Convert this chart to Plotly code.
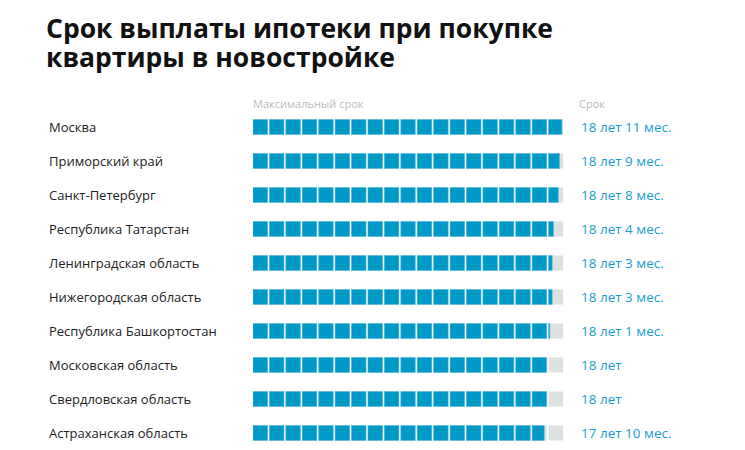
import plotly.graph_objects as go

regions = ["Москва", "Приморский край", "Санкт-Петербург", "Республика Татарстан",
           "Ленинградская область", "Нижегородская область", "Республика Башкортостан",
           "Московская область", "Свердловская область", "Астраханская область"]
years = [18, 18, 18, 18, 18, 18, 18, 18, 18, 17]
months = [11, 9, 8, 4, 3, 3, 1, 0, 0, 10]
labels = ["18 лет 11 мес.", "18 лет 9 мес.", "18 лет 8 мес.", "18 лет 4 мес.",
          "18 лет 3 мес.", "18 лет 3 мес.", "18 лет 1 мес.", "18 лет", "18 лет",
          "17 лет 10 мес."]
max_years = 19
title_lines = ["Срок выплаты ипотеки при покупке", "квартиры в новостройке"]

BLUE = "#0099c7"
GRAY = "#dde1e1"
TEXT_BLUE = "#1b9bd0"
SQ = 0.884   # square width as share of one-year cell
BH = 0.44    # square height as share of row

gx, gb, gy = [], [], []
bx, bb, by = [], [], []
for r, yv, mv in zip(regions, years, months):
    total = yv + mv / 12
    for i in range(max_years):
        gx.append(SQ); gb.append(i); gy.append(r)
        frac = max(0.0, min(1.0, total - i))
        if frac > 0:
            bx.append(SQ * frac); bb.append(i); by.append(r)

fig = go.Figure()
fig.add_trace(go.Bar(x=gx, base=gb, y=gy, orientation="h", width=BH,
                     marker=dict(color=GRAY, line=dict(width=0)), hoverinfo="skip"))
fig.add_trace(go.Bar(x=bx, base=bb, y=by, orientation="h", width=BH,
                     marker=dict(color=BLUE, line=dict(color="#4db8dc", width=0.6)),
                     hoverinfo="skip"))

L, R = 253, 564.6
PW = R - L
T, B = 110, 450
PH = B - T
def px(xp):
    return (xp - L) / PW
def py(yp):
    return (B - yp) / PH

ann = []
for r, lab in zip(regions, labels):
    ann.append(dict(x=px(47), xref="paper", y=r, yref="y", text=r, showarrow=False,
                    xanchor="left", yanchor="middle",
                    font=dict(family="Open Sans", size=13, color="#222222")))
    ann.append(dict(x=px(579), xref="paper", y=r, yref="y", text=lab, showarrow=False,
                    xanchor="left", yanchor="middle",
                    font=dict(family="Open Sans", size=13.5, color=TEXT_BLUE)))
ann.append(dict(x=px(251), xref="paper", y=py(103), yref="paper",
                text="Максимальный срок", showarrow=False, xanchor="left", yanchor="middle",
                font=dict(family="Open Sans", size=11, color="#b8bbbb")))
ann.append(dict(x=px(577), xref="paper", y=py(103), yref="paper",
                text="Срок", showarrow=False, xanchor="left", yanchor="middle",
                font=dict(family="Open Sans", size=11, color="#b8bbbb")))
for line, ypix in zip(title_lines, [28, 57]):
    ann.append(dict(x=px(44), xref="paper", y=py(ypix), yref="paper", text=line,
                    showarrow=False, xanchor="left", yanchor="middle",
                    font=dict(family="Open Sans", size=26.5, color="#111111", weight="bold")))

fig.update_layout(
    width=745, height=450,
    margin=dict(l=L, r=745 - R, t=T, b=450 - B, pad=0),
    paper_bgcolor="white", plot_bgcolor="white",
    barmode="overlay", showlegend=False,
    xaxis=dict(range=[0, max_years], visible=False, fixedrange=True),
    yaxis=dict(categoryorder="array", categoryarray=regions,
               range=[9.5, -0.5], visible=False, fixedrange=True),
    annotations=ann,
)
fig.write_html("out.html", config={"displayModeBar": False},
               post_script="document.body.style.margin='0px';document.body.style.overflow='hidden';")
